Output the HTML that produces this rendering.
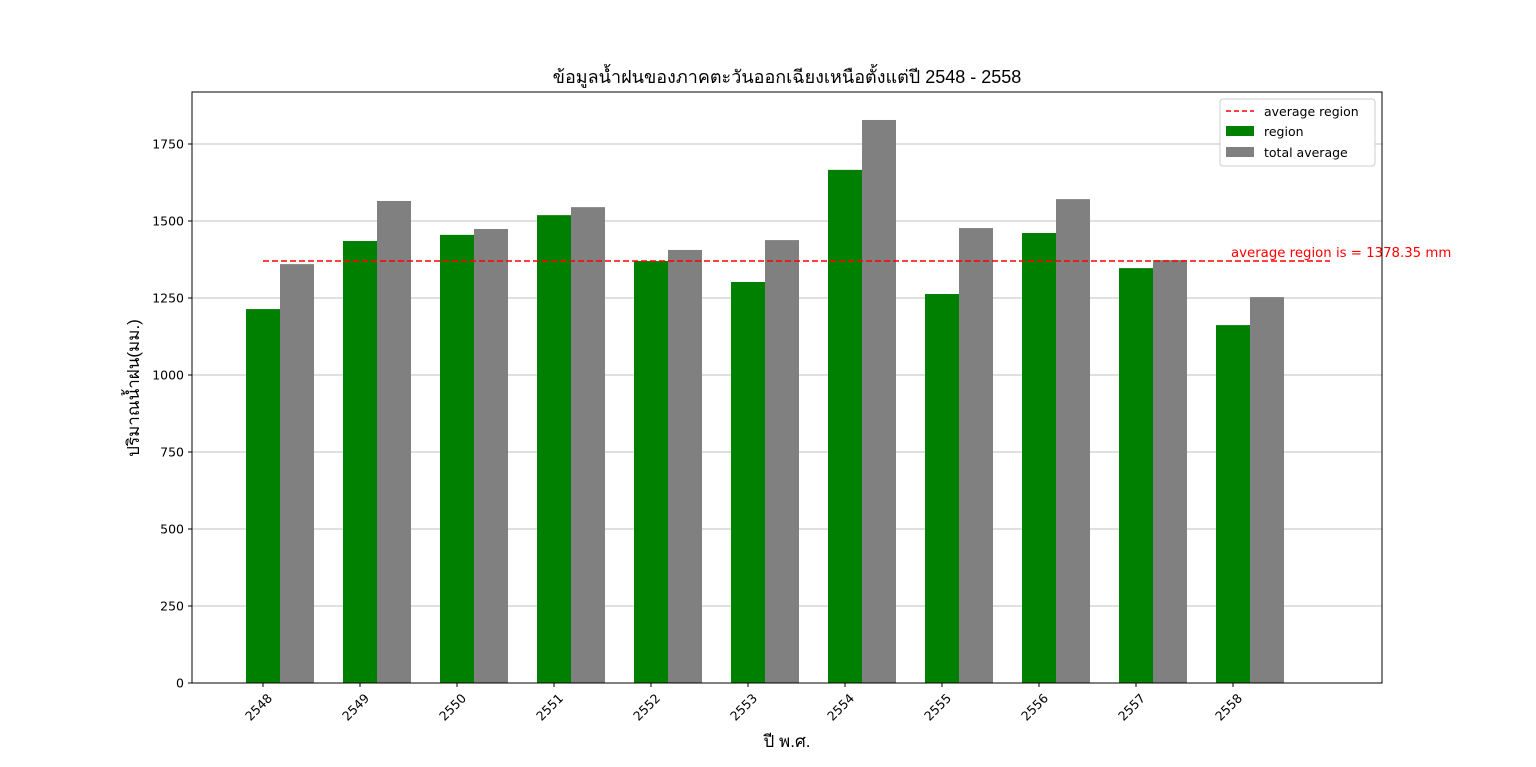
<!DOCTYPE html>
<html><head><meta charset="utf-8"><style>
body{margin:0;background:#fff;}
svg{display:block;font-family:"DejaVu Sans","Liberation Sans",sans-serif;}
</style></head><body>
<svg id="chart" width="1536" height="767">
<text x="787" y="83" text-anchor="middle" font-size="18" font-family="Liberation Sans, Noto Sans CJK SC, DejaVu Sans, sans-serif">ข้อมูลน้ำฝนของภาคตะวันออกเฉียงเหนือตั้งแต่ปี 2548 - 2558</text>
<g id="grid"></g><g id="bars"></g><g id="axes"></g>
<text x="787" y="747" text-anchor="middle" font-size="17" font-family="Liberation Sans, DejaVu Sans, sans-serif">ปี พ.ศ.</text>
<text transform="translate(139,388) rotate(-90)" text-anchor="middle" font-size="17" font-family="Liberation Sans, DejaVu Sans, sans-serif">ปริมาณน้ำฝน(มม.)</text>
<g>
<rect x="1220" y="99" width="155" height="67" fill="#fff" stroke="#ccc" rx="3"/>
<line x1="1226" y1="111" x2="1254" y2="111" stroke="red" stroke-width="1.5" stroke-dasharray="5,3"/>
<text x="1264" y="116" font-size="12.5">average region</text>
<rect x="1226" y="126" width="28" height="10" fill="green"/>
<text x="1264" y="136" font-size="12.5">region</text>
<rect x="1226" y="147" width="28" height="10" fill="gray"/>
<text x="1264" y="157" font-size="12.5">total average</text>
</g>
</svg>
<script>
const years=["2548","2549","2550","2551","2552","2553","2554","2555","2556","2557","2558"];
const regionVals=[1214,1435,1455,1519,1370,1302,1666,1263,1461,1347,1162];
const totalVals=[1360,1565,1474,1545,1406,1438,1828,1477,1571,1373,1253];
const yTicks=[0,250,500,750,1000,1250,1500,1750];
const avgValue=1370;
const avgLabel="average region is = 1378.35 mm";
const NS="http://www.w3.org/2000/svg";
const L=192,R=1382,T=92,B=683;
const x=i=>263+i*97;
const y=v=>B-v*0.308;
const bw=34;
function mk(t,a,p){const e=document.createElementNS(NS,t);for(const k in a)e.setAttribute(k,a[k]);p.appendChild(e);return e;}
const g=document.getElementById('grid'),b=document.getElementById('bars'),ax=document.getElementById('axes');
yTicks.forEach(v=>{
 const l=mk('line',{x1:L,x2:R,y1:y(v),y2:y(v),stroke:'#c0c0c0','stroke-width':1},g);
 
 
 mk('line',{x1:L-4,x2:L,y1:y(v),y2:y(v),stroke:'#000'},ax);
 const t=mk('text',{x:L-8,y:y(v)+4.5,'text-anchor':'end','font-size':12.5},ax);t.textContent=v;
 
 
});
years.forEach((yr,i)=>{
 const r1=mk('rect',{x:x(i)-bw/2,y:y(regionVals[i]),width:bw,height:B-y(regionVals[i]),fill:'green'},b);
 
 
 const r2=mk('rect',{x:x(i)+bw/2,y:y(totalVals[i]),width:bw,height:B-y(totalVals[i]),fill:'gray'},b);
 
 
 mk('line',{x1:x(i),x2:x(i),y1:B,y2:B+4,stroke:'#000'},ax);
 const t=mk('text',{x:0,y:0,'text-anchor':'end','font-size':12.5,transform:`translate(${x(i)+10},${B+16}) rotate(-45)`},ax);t.textContent=yr;
 
 
});
const al=mk('line',{x1:x(0),x2:x(years.length-1)+97,y1:y(avgValue),y2:y(avgValue),stroke:'red','stroke-width':1.5,'stroke-dasharray':'6,3'},b);


const at=mk('text',{x:x(years.length-1)-2,y:y(avgValue)-4,fill:'red','font-size':13.3},b);at.textContent=avgLabel;


const fr=mk('rect',{x:L,y:T,width:R-L,height:B-T,fill:'none',stroke:'#000','stroke-width':1},ax);


</script>
</body></html>
